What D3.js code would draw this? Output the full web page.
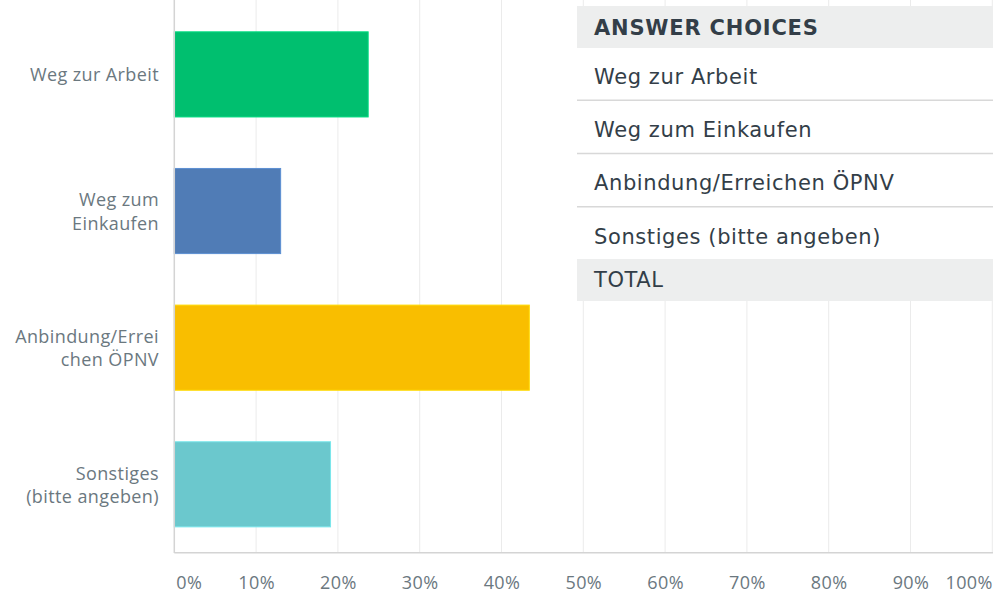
<!DOCTYPE html>
<meta charset="utf-8">
<script src="https://cdn.jsdelivr.net/npm/d3@7/dist/d3.min.js"></script>
<style>
body { margin: 0; background: #fff; }
.lbl { font-family: "Open Sans", sans-serif; font-size: 18px; letter-spacing: 0.4px; fill: #6b787f; }
.tbl { font-family: "DejaVu Sans", sans-serif; font-size: 21px; letter-spacing: 0.6px; fill: #333e48; }
</style>
<body>
<script>
// answer choices + percentages
var categories = ["Weg zur Arbeit", "Weg zum Einkaufen", "Anbindung/Erreichen ÖPNV", "Sonstiges (bitte angeben)"];
var labelLines = [["Weg zur Arbeit"], ["Weg zum", "Einkaufen"], ["Anbindung/Errei", "chen ÖPNV"], ["Sonstiges", "(bitte angeben)"]];
var values = [23.7, 13.0, 43.4, 19.1];
var colors = ["#00bf6f", "#507cb6", "#f9be00", "#6bc8cd"];
var ticks = [0, 10, 20, 30, 40, 50, 60, 70, 80, 90, 100];
var tableHeader = "ANSWER CHOICES";
var tableTotal = "TOTAL";

var W = 993, H = 593;

var svg = d3.select("body").append("svg")
    .attr("width", W)
    .attr("height", H);

var x = d3.scaleLinear().domain([0, 100]).range([174.3, 992.3]);
var y = d3.scaleBand().domain(categories).range([6, 552.7])
    .paddingInner(0.377).paddingOuter(0.189);

// gridlines
svg.append("g").selectAll("line")
    .data(ticks.slice(1))
    .enter().append("line")
    .attr("x1", function(d) { return x(d); })
    .attr("x2", function(d) { return x(d); })
    .attr("y1", 0).attr("y2", 552.7)
    .attr("stroke", "#ebebeb")
    .attr("stroke-width", 1);

// bars
svg.append("g").selectAll("rect")
    .data(values)
    .enter().append("rect")
    .attr("x", x(0))
    .attr("y", function(d, i) { return y(categories[i]); })
    .attr("width", function(d) { return x(d) - x(0); })
    .attr("height", y.bandwidth())
    .attr("fill", function(d, i) { return colors[i]; })
    .attr("stroke", function(d, i) { return d3.color(colors[i]).brighter(0.4); })
    .attr("stroke-width", 1);

// axis lines
svg.append("line")
    .attr("x1", x(0)).attr("x2", x(0))
    .attr("y1", 0).attr("y2", 553)
    .attr("stroke", "#d4d4d4").attr("stroke-width", 1.5);
svg.append("line")
    .attr("x1", x(0)).attr("x2", W)
    .attr("y1", 552.7).attr("y2", 552.7)
    .attr("stroke", "#d4d4d4").attr("stroke-width", 1.5);

// x tick labels
var xAxis = d3.axisBottom(x).tickValues(ticks).tickSize(0)
    .tickFormat(function(d) { return d + "%"; });
var gx = svg.append("g")
    .attr("transform", "translate(0,552.7)")
    .call(xAxis);
gx.select(".domain").remove();
gx.selectAll("text")
    .attr("class", "lbl")
    .attr("fill", null)
    .attr("y", 36).attr("dy", 0)
    .attr("text-anchor", function(d) { return d == 0 ? "start" : (d == 100 ? "end" : "middle"); })
    .attr("dx", function(d) { return d == 0 ? 1.5 : 0; });
gx.attr("font-family", null).attr("font-size", null);

// category labels (wrapped like the original)
var lab = svg.append("g").selectAll("text")
    .data(labelLines)
    .enter().append("text")
    .attr("class", "lbl")
    .attr("text-anchor", "end")
    .attr("transform", function(d, i) {
        return "translate(159," + (y(categories[i]) + y.bandwidth() / 2) + ")";
    });
lab.selectAll("tspan")
    .data(function(d) { return d.map(function(t, j) { return {t: t, j: j, n: d.length}; }); })
    .enter().append("tspan")
    .attr("x", 0)
    .attr("y", function(d) { return (d.j - (d.n - 1) / 2) * 23.5 + 7; })
    .text(function(d) { return d.t; });

// answer choices table on top
var tx = 577, tw = W - 577;
var tb = svg.append("g");
tb.append("rect").attr("x", tx).attr("y", 6).attr("width", tw).attr("height", 295).attr("fill", "#fff");
tb.append("rect").attr("x", tx).attr("y", 6).attr("width", tw).attr("height", 42).attr("fill", "#edeeee");
tb.append("rect").attr("x", tx).attr("y", 259).attr("width", tw).attr("height", 42).attr("fill", "#edeeee");
tb.append("text").attr("class", "tbl")
    .attr("x", 594).attr("y", 34.5)
    .style("font-weight", "bold")
    .style("letter-spacing", "0.8px")
    .text(tableHeader);
categories.forEach(function(c, i) {
    tb.append("text").attr("class", "tbl")
        .attr("x", 594).attr("y", 84 + i * 53.2)
        .text(c);
    if (i < 3) {
        tb.append("line")
            .attr("x1", tx).attr("x2", W)
            .attr("y1", 100.3 + i * 53.2).attr("y2", 100.3 + i * 53.2)
            .attr("stroke", "#d8d8d8").attr("stroke-width", 1.5);
    }
});
tb.append("text").attr("class", "tbl")
    .attr("x", 594).attr("y", 287)
    .text(tableTotal);
</script>
</body>
</html>
